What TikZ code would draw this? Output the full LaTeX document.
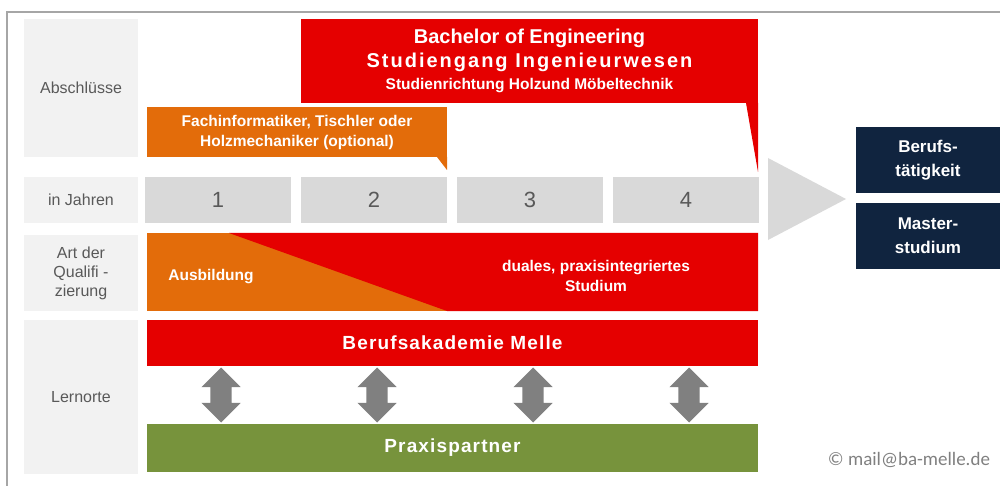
\documentclass[tikz,border=0pt]{standalone}
\usepackage{fontspec}
\setmainfont{Liberation Sans}
\newfontfamily\mailfont{Carlito}
\usetikzlibrary{positioning,shapes.arrows}
\definecolor{labelgray}{HTML}{F2F2F2}
\definecolor{yeargray}{HTML}{D9D9D9}
\definecolor{textgray}{HTML}{595959}
\definecolor{framegray}{HTML}{A6A6A6}
\definecolor{bared}{HTML}{E50000}
\definecolor{baorange}{HTML}{E36C0A}
\definecolor{bagreen}{HTML}{77933C}
\definecolor{banavy}{HTML}{10243F}
\definecolor{arrowgray}{HTML}{808080}

\begin{document}
\begin{tikzpicture}[x=1pt, y=-1pt]
\tikzstyle{every node}=[inner sep=0pt, outer sep=0pt]
\tikzstyle{rowlabel}=[fill=labelgray, text=textgray, anchor=north west, align=center,
                      minimum width=114pt, font=\fontsize{16}{19}\selectfont]
\tikzstyle{yearbox}=[fill=yeargray, text=textgray, anchor=north west,
                     minimum width=146pt, minimum height=46pt, font=\fontsize{22}{26}\selectfont]
\tikzstyle{bar}=[anchor=north west, minimum width=611pt, text=white,
                 font=\bfseries\fontsize{19}{22}\selectfont\addfontfeature{LetterSpace=6}]
\tikzstyle{goal}=[fill=banavy, text=white, anchor=north west, align=center,
                  minimum width=144pt, minimum height=66pt, font=\bfseries\fontsize{17}{24}\selectfont]
\tikzstyle{whitetext}=[text=white, align=center, font=\bfseries\fontsize{15.5}{20}\selectfont]
\tikzstyle{dblarrow}=[double arrow, fill=arrowgray, rotate=90, inner xsep=0pt, inner ysep=10.5pt,
                      double arrow head extend=9pt, minimum height=55pt]
\useasboundingbox (0,0) rectangle (1000,486);
% frame
\draw[framegray, line width=2pt] (7,486) -- (7,12.5) -- (1000,12.5);
% row labels
\node[rowlabel, minimum height=138pt] (abschl) at (24,19) {Abschlüsse};
\node[rowlabel, minimum height=46pt] (jahre) at (24,177) {in Jahren};
\node[rowlabel, minimum height=76pt] (art) at (24,235) {Art der\\Qualifi -\\zierung};
\node[rowlabel, minimum height=154pt] (lern) at (24,320) {Lernorte};
% years
\foreach \n [count=\i from 0] in {1,...,4}
  \node[yearbox] (y\n) at (145+156*\i,177) {\n};
% degrees
\node[fill=bared, anchor=north west, minimum width=457pt, minimum height=84pt,
      whitetext] (bach) at (301,19)
  {\fontsize{20}{24}\selectfont Bachelor of Engineering\\[4pt]
   \fontsize{20}{24}\selectfont\addfontfeature{LetterSpace=10}Studiengang Ingenieurwesen\\[2pt]
   \fontsize{15.5}{22}\selectfont Studienrichtung Holzund Möbeltechnik};
\fill[bared] ([xshift=-12pt]bach.south east) -- ++(12,69) -- (bach.south east) -- cycle;
\node[fill=baorange, anchor=north west, minimum width=300pt, minimum height=50pt,
      whitetext] (fach) at (147,107)
  {Fachinformatiker, Tischler oder\\Holzmechaniker (optional)};
\fill[baorange] ([xshift=-10pt]fach.south east) -- ++(10,13) -- (fach.south east) -- cycle;
% outlook
\fill[yeargray] (768,158) -- (846,199) -- (768,240) -- cycle;
\node[goal] (beruf) at (856,127) {Berufs-\\tätigkeit};
\node[goal] (master) at (856,203) {Master-\\studium};
% kind of qualification
\node[fill=baorange, anchor=north west, minimum width=611pt, minimum height=78pt] (quali) at (147,233) {};
\fill[bared] (229,233) -- (quali.north east) -- (quali.south east) -- (447,311) -- cycle;
\node[whitetext] (ausb) at (211,277) {Ausbildung};
\node[whitetext] (dual) at (596,276) {duales, praxisintegriertes\\Studium};
% places of learning
\node[bar, fill=bared, minimum height=46pt] (bam) at (147,320) {Berufsakademie Melle};
\node[bar, fill=bagreen, minimum height=48pt] (pp) at (147,424) {Praxispartner};
\foreach \n in {1,...,4}
  \path (bam.south -| y\n) -- (pp.north -| y\n) node[midway, xshift=3pt, dblarrow] {};
\node[text=arrowgray, font=\mailfont\fontsize{19}{21}\selectfont, anchor=east] (mail) at (990,460)
  {© mail@ba-melle.de};
\end{tikzpicture}
\end{document}
